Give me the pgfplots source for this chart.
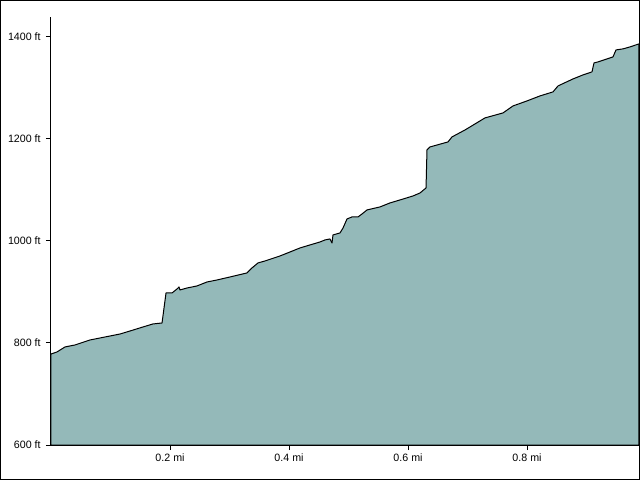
\documentclass[border=0pt]{standalone}
\usepackage{pgfplots}
\pgfplotsset{compat=1.18}
\usepackage{fontspec}
\setmainfont{Liberation Sans}
\definecolor{areafill}{RGB}{148,185,185}
\begin{document}
\begin{tikzpicture}
\useasboundingbox (0pt,0pt) rectangle (480pt,360pt);
\draw[line width=0.75pt] (0.375pt,0.375pt) rectangle (479.625pt,359.625pt);
\begin{axis}[
  at={(38.25pt,26.25pt)}, anchor=south west,
  scale only axis, width=441pt, height=321pt,
  xmin=0, xmax=0.9882, ymin=600, ymax=1439,
  axis lines*=left,
  axis line style={line width=0.75pt},
  axis on top,
  tick align=outside,
  major tick length=3.75pt,
  tick style={line width=0.75pt, black},
  xtick={0.2,0.4,0.6,0.8},
  xticklabels={0.2 mi,0.4 mi,0.6 mi,0.8 mi},
  ytick={600,800,1000,1200,1400},
  yticklabels={600 ft,800 ft,1000 ft,1200 ft,1400 ft},
  ticklabel style={font=\fontsize{8}{9.6}\selectfont},
  xticklabel style={yshift=1pt},
  yticklabel style={xshift=-0.5pt},
  /pgf/number format/assume math mode=true,
]
\addplot[draw=black, line width=0.75pt, fill=areafill, line join=round] coordinates {
(0,778.4) (0.0101,782.4) (0.0235,792.2) (0.0403,796.1) (0.0655,805.9)
(0.0992,813.7) (0.1160,817.6) (0.1328,823.5) (0.1546,831.4) (0.1714,837.3)
(0.1866,839.2) (0.1933,898.0) (0.2034,898.0) (0.2118,905.9) (0.2151,909.8)
(0.2168,903.9) (0.2286,907.8) (0.2454,911.8) (0.2622,919.6) (0.2790,923.5)
(0.3008,929.4) (0.3294,937.3) (0.3378,947.1) (0.3479,956.9) (0.3597,960.8)
(0.3849,970.6) (0.4017,978.4) (0.4185,986.3) (0.4353,992.2) (0.4521,998.0)
(0.4605,1002.0) (0.4689,1003.9) (0.4723,996.1) (0.4739,1011.8) (0.4857,1015.7)
(0.4908,1025.5) (0.4975,1043.1) (0.5059,1047.1) (0.5160,1047.1) (0.5227,1052.9)
(0.5311,1060.8) (0.5529,1066.7) (0.5697,1074.5) (0.5866,1080.4) (0.6084,1088.2)
(0.6202,1094.1) (0.6303,1103.9) (0.6319,1178.4) (0.6370,1184.3) (0.6672,1194.1)
(0.6739,1203.9) (0.6958,1217.6) (0.7294,1241.2) (0.7597,1251.0) (0.7765,1264.7)
(0.8000,1274.5) (0.8218,1284.3) (0.8437,1292.2) (0.8521,1303.9) (0.8773,1317.6)
(0.8941,1325.5) (0.9092,1331.4) (0.9126,1349.0) (0.9193,1351.0) (0.9345,1356.9)
(0.9395,1358.8) (0.9445,1360.8) (0.9496,1374.5) (0.9613,1376.5) (0.9731,1380.4)
(0.9882,1386.3)
} \closedcycle;
\end{axis}
\end{tikzpicture}
\end{document}
